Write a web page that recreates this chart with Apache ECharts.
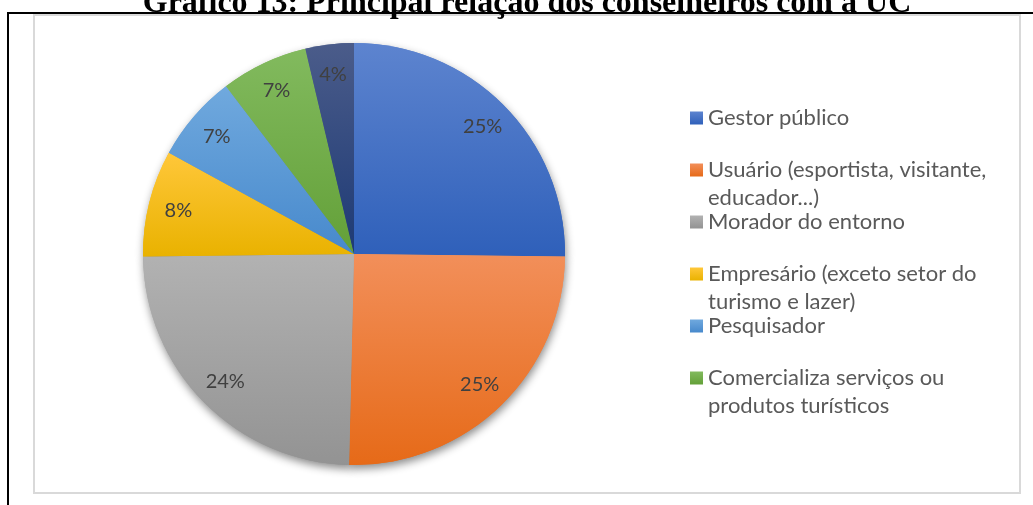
<!DOCTYPE html>
<html>
<head>
<meta charset="utf-8">
<script src="https://cdn.jsdelivr.net/npm/echarts@6/dist/echarts.min.js"></script>
<style>
  html, body { margin: 0; padding: 0; background: #ffffff; }
  #chart { width: 1033px; height: 505px; }
</style>
</head>
<body>
<div id="chart"></div>
<script>
// Principal relação dos conselheiros com a UC (número de respostas)
const categories = [
  'Gestor público',
  'Usuário (esportista, visitante,\neducador...)',
  'Morador do entorno',
  'Empresário (exceto setor do\nturismo e lazer)',
  'Pesquisador',
  'Comercializa serviços ou\nprodutos turísticos',
  'Outros'
];
const responses = [34, 34, 33, 11, 9, 9, 5];
// only the first six categories appear in the legend
const legendNames = categories.slice(0, 6);

// slice fills: lighter tint at the top, deeper shade at the bottom
const fillTop    = ['#5d84cf', '#f28f5a', '#b2b2b2', '#ffc73a', '#70a9de', '#82ba5e', '#4b5c8a'];
const fillBottom = ['#2f60ba', '#e66a18', '#939393', '#e9b200', '#4789cc', '#63a038', '#1d3a75'];

function sliceFill(i) {
  return {
    type: 'linear', x: 0, y: 0, x2: 0, y2: 1,
    colorStops: [
      { offset: 0, color: fillTop[i] },
      { offset: 1, color: fillBottom[i] }
    ]
  };
}

const pieData = categories.map((name, i) => ({
  name: name,
  value: responses[i],
  itemStyle: { color: sliceFill(i) }
}));

const PIE_CENTER = [354, 254];
const PIE_R = 211;

// one legend block per entry so every entry keeps the same pitch;
// wrapped entries get a blank leading line so the marker sits on line one
const legendLineCenters = [118, 170, 222, 274, 326, 378];
const LINE_H = 28;
const legends = legendNames.map((name, i) => {
  const wrapped = name.indexOf('\n') >= 0;
  return {
    data: [name],
    orient: 'vertical',
    left: 690,
    top: legendLineCenters[i] - 14 - (wrapped ? LINE_H : 0),
    padding: 0,
    itemGap: 0,
    itemWidth: 13,
    itemHeight: 13,
    icon: 'rect',
    selectedMode: false,
    formatter: (n) => (n.indexOf('\n') >= 0 ? '\n' + n : n),
    textStyle: {
      fontFamily: 'Lato',
      fontSize: 22,
      color: '#595959',
      lineHeight: LINE_H
    }
  };
});

const chart = echarts.init(document.getElementById('chart'), null, { renderer: 'canvas' });

chart.setOption({
  backgroundColor: '#ffffff',
  animation: false,
  legend: legends,
  graphic: [
    // inner chart frame
    {
      type: 'rect', z: 0,
      shape: { x: 34, y: 15, width: 986, height: 478 },
      style: { fill: '#ffffff', stroke: '#d9d9d9', lineWidth: 2 }
    },
    // page frame lines
    {
      type: 'line', z: 10,
      shape: { x1: 7, y1: 13, x2: 1033, y2: 13 },
      style: { stroke: '#000000', lineWidth: 2 }
    },
    {
      type: 'line', z: 10,
      shape: { x1: 8, y1: 12, x2: 8, y2: 505 },
      style: { stroke: '#000000', lineWidth: 2 }
    },
    // heading
    {
      type: 'text', z: 11,
      x: 527, y: 4,
      style: {
        text: 'Gráfico 13: Principal relação dos conselheiros com a UC',
        font: 'bold 32px "Liberation Serif", "Times New Roman", serif',
        fill: '#000000',
        align: 'center',
        verticalAlign: 'middle'
      }
    }
  ],
  series: [
    // main pie
    {
      type: 'pie',
      z: 3,
      center: PIE_CENTER,
      radius: PIE_R,
      startAngle: 90,
      clockwise: true,
      label: { show: false },
      labelLine: { show: false },
      emphasis: { disabled: true },
      itemStyle: { borderWidth: 0 },
      data: pieData
    },
    // soft drop shadow under the pie
    {
      type: 'pie',
      z: 2,
      silent: true,
      center: PIE_CENTER,
      radius: PIE_R,
      startAngle: 90,
      label: { show: false },
      labelLine: { show: false },
      emphasis: { disabled: true },
      itemStyle: {
        borderWidth: 0,
        shadowBlur: 9,
        shadowOffsetX: 1,
        shadowOffsetY: 4,
        shadowColor: 'rgba(0,0,0,0.45)'
      },
      data: pieData
    },
    // percentage labels near the rim
    {
      type: 'pie',
      z: 4,
      silent: true,
      center: PIE_CENTER,
      radius: [145, PIE_R],
      startAngle: 90,
      percentPrecision: 0,
      itemStyle: { color: 'rgba(0,0,0,0)', borderWidth: 0 },
      emphasis: { disabled: true },
      label: {
        show: true,
        position: 'inside',
        formatter: '{d}%',
        fontFamily: 'Lato',
        fontSize: 20,
        color: '#404040'
      },
      labelLine: { show: false },
      data: categories.map((name, i) => ({ name: name, value: responses[i] }))
    }
  ]
});
</script>
</body>
</html>
